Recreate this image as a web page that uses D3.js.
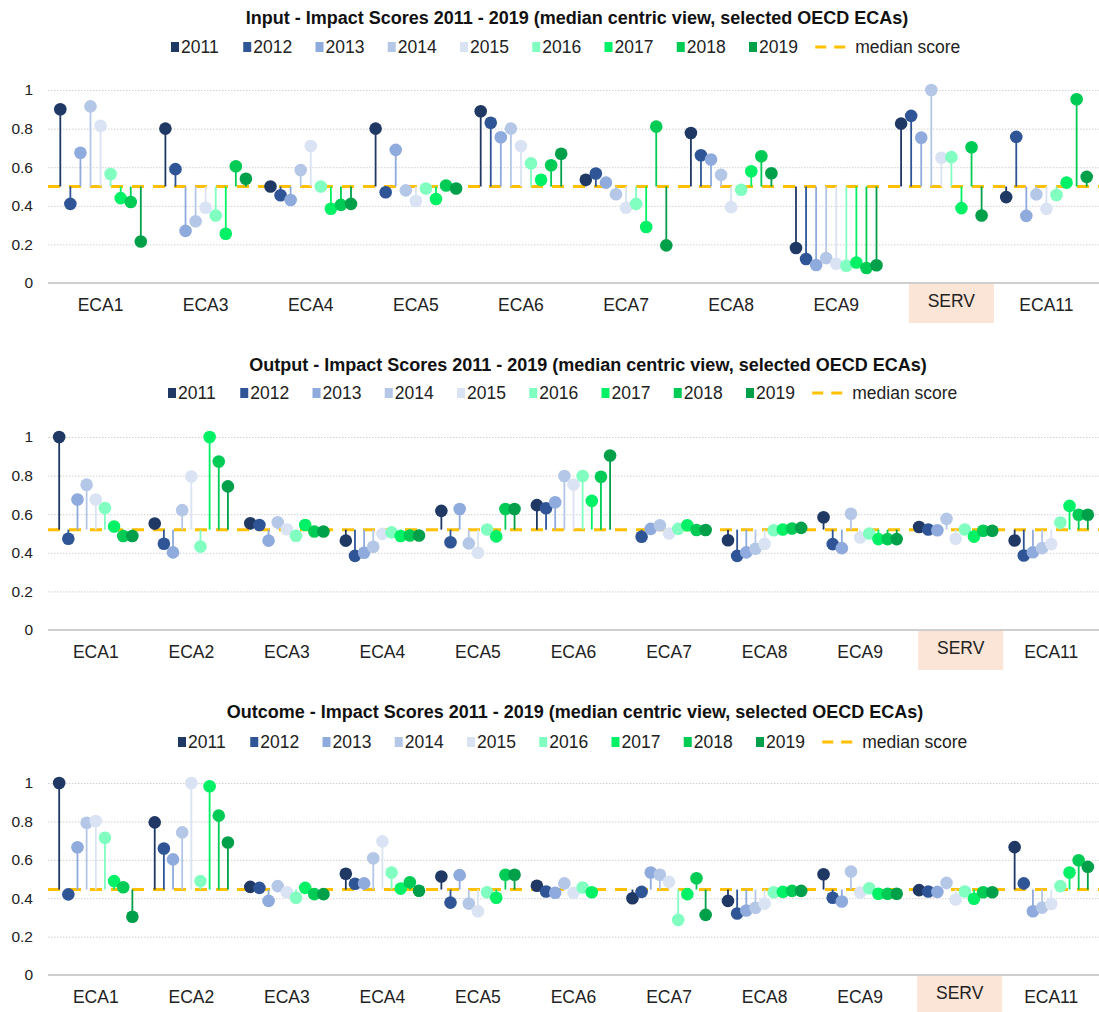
<!DOCTYPE html>
<html>
<head>
<meta charset="utf-8">
<script src="https://cdn.jsdelivr.net/npm/d3@7"></script>
<style>
  body { margin: 0; background: #fff; }
  svg { font-family: "Liberation Sans", Arial, sans-serif; }
</style>
</head>
<body>
<div id="chart"></div>
<script>
// series
const years = [2011, 2012, 2013, 2014, 2015, 2016, 2017, 2018, 2019];
const yearColors = ["#1f3864", "#2f5597", "#8faadc", "#b4c7e7", "#dae3f3",
                    "#80ffc0", "#00f066", "#00cc55", "#00a04a"];
const medianColor = "#ffc000";
const yTicks = [0, 0.2, 0.4, 0.6, 0.8, 1];

// Input panel: one row per ECA, one value per year
const inputCats = ["ECA1", "ECA3", "ECA4", "ECA5", "ECA6", "ECA7", "ECA8", "ECA9", "SERV", "ECA11"];
const inputMedian = 0.5;
const inputScores = [
    [0.90, 0.41, 0.675, 0.915, 0.815, 0.565, 0.44, 0.42, 0.215],
    [0.80, 0.59, 0.27, 0.32, 0.39, 0.35, 0.255, 0.605, 0.54],
    [0.50, 0.455, 0.43, 0.585, 0.71, 0.50, 0.385, 0.405, 0.41],
    [0.80, 0.47, 0.69, 0.48, 0.425, 0.49, 0.435, 0.505, 0.49],
    [0.89, 0.83, 0.755, 0.80, 0.71, 0.62, 0.535, 0.61, 0.67],
    [0.535, 0.567, 0.52, 0.46, 0.39, 0.41, 0.29, 0.81, 0.195],
    [0.777, 0.662, 0.64, 0.56, 0.393, 0.483, 0.579, 0.657, 0.569],
    [0.181, 0.124, 0.093, 0.129, 0.10, 0.089, 0.106, 0.078, 0.092],
    [0.826, 0.866, 0.753, 1.0, 0.649, 0.652, 0.388, 0.703, 0.35],
    [0.445, 0.757, 0.348, 0.459, 0.384, 0.456, 0.52, 0.952, 0.55]
];

// Output panel
const outputCats = ["ECA1", "ECA2", "ECA3", "ECA4", "ECA5", "ECA6", "ECA7", "ECA8", "ECA9", "SERV", "ECA11"];
const outputMedian = 0.52;
const outputScores = [
    [1.0, 0.473, 0.676, 0.753, 0.676, 0.632, 0.536, 0.487, 0.487],
    [0.552, 0.447, 0.402, 0.621, 0.795, 0.432, 1.0, 0.873, 0.744],
    [0.553, 0.544, 0.463, 0.558, 0.522, 0.488, 0.544, 0.51, 0.51],
    [0.463, 0.384, 0.40, 0.431, 0.498, 0.506, 0.487, 0.49, 0.49],
    [0.617, 0.455, 0.627, 0.449, 0.40, 0.521, 0.485, 0.627, 0.627],
    [0.647, 0.631, 0.662, 0.798, 0.754, 0.798, 0.669, 0.794, 0.904],
    [null, 0.483, 0.524, 0.543, 0.50, 0.524, 0.543, 0.518, 0.518],
    [0.465, 0.384, 0.402, 0.421, 0.446, 0.517, 0.521, 0.526, 0.529],
    [0.584, 0.445, 0.424, 0.602, 0.479, 0.50, 0.471, 0.471, 0.471],
    [0.534, 0.521, 0.517, 0.576, 0.473, 0.521, 0.484, 0.514, 0.514],
    [0.464, 0.386, 0.403, 0.424, 0.445, 0.557, 0.643, 0.597, 0.597]
];

// Outcome panel
const outcomeCats = ["ECA1", "ECA2", "ECA3", "ECA4", "ECA5", "ECA6", "ECA7", "ECA8", "ECA9", "SERV", "ECA11"];
const outcomeMedian = 0.445;
const outcomeScores = [
    [1.0, 0.42, 0.665, 0.793, 0.802, 0.715, 0.489, 0.457, 0.303],
    [0.795, 0.659, 0.602, 0.743, 1.0, 0.489, 0.983, 0.83, 0.69],
    [0.459, 0.454, 0.386, 0.463, 0.431, 0.402, 0.454, 0.421, 0.421],
    [0.527, 0.475, 0.477, 0.608, 0.696, 0.533, 0.45, 0.483, 0.439],
    [0.513, 0.377, 0.52, 0.372, 0.332, 0.431, 0.402, 0.522, 0.522],
    [0.465, 0.435, 0.428, 0.477, 0.428, 0.456, 0.431, null, null],
    [0.40, 0.433, 0.534, 0.522, 0.485, 0.287, 0.421, 0.504, 0.313],
    [0.386, 0.32, 0.336, 0.35, 0.372, 0.431, 0.433, 0.438, 0.438],
    [0.525, 0.402, 0.383, 0.539, 0.43, 0.452, 0.423, 0.423, 0.423],
    [0.442, 0.435, 0.433, 0.48, 0.393, 0.435, 0.397, 0.431, 0.431],
    [0.666, 0.477, 0.332, 0.351, 0.37, 0.463, 0.534, 0.598, 0.563]
];

const panels = [
    { title: "Input - Impact Scores 2011 - 2019 (median centric view, selected OECD ECAs)",
      cats: inputCats, scores: inputScores, median: inputMedian,
      titleX: 577, titleY: 18, legendX: 171, legendY: 47, yTop: 90, yBottom: 283, servShift: 10 },
    { title: "Output - Impact Scores 2011 - 2019 (median centric view, selected OECD ECAs)",
      cats: outputCats, scores: outputScores, median: outputMedian,
      titleX: 588, titleY: 365, legendX: 168, legendY: 393, yTop: 437, yBottom: 630, servShift: 5 },
    { title: "Outcome - Impact Scores 2011 - 2019 (median centric view, selected OECD ECAs)",
      cats: outcomeCats, scores: outcomeScores, median: outcomeMedian,
      titleX: 575, titleY: 712, legendX: 178, legendY: 742, yTop: 783, yBottom: 975, servShift: 4 }
];

const plotLeft = 48, plotRight = 1099;

const svg = d3.select("#chart").append("svg")
    .attr("width", 1099)
    .attr("height", 1012);

panels.forEach(function(p) {
    let g = svg.append("g");

    let x = d3.scaleBand().domain(p.cats).range([plotLeft, plotRight]);
    let bw = x.bandwidth();
    // years spread inside each category band
    let xi = d3.scalePoint().domain(years).range([bw * 0.117, bw * 0.883]);
    let y = d3.scaleLinear().domain([0, 1]).range([p.yBottom, p.yTop]);

    // title
    g.append("text")
        .attr("x", p.titleX)
        .attr("y", p.titleY)
        .attr("text-anchor", "middle")
        .attr("dominant-baseline", "central")
        .style("font-size", "18px")
        .style("font-weight", "bold")
        .attr("fill", "#111")
        .text(p.title);

    // legend
    let step = 72.25;
    let leg = g.append("g");
    years.forEach(function(yr, j) {
        let lx = p.legendX + j * step;
        leg.append("rect")
            .attr("x", lx)
            .attr("y", p.legendY - 5)
            .attr("width", 8)
            .attr("height", 10)
            .attr("fill", yearColors[j]);
        leg.append("text")
            .attr("x", lx + 10)
            .attr("y", p.legendY)
            .attr("dominant-baseline", "central")
            .style("font-size", "17.5px")
            .attr("fill", "#222")
            .text(yr);
    });
    let mx = p.legendX + 9 * step;
    leg.append("line")
        .attr("x1", mx - 6).attr("x2", mx + 24)
        .attr("y1", p.legendY).attr("y2", p.legendY)
        .attr("stroke", medianColor)
        .attr("stroke-width", 3)
        .attr("stroke-dasharray", "11,8");
    leg.append("text")
        .attr("x", mx + 34)
        .attr("y", p.legendY)
        .attr("dominant-baseline", "central")
        .style("font-size", "17.5px")
        .attr("fill", "#222")
        .text("median score");

    // gridlines
    let grid = g.append("g")
        .attr("transform", `translate(${plotLeft},0)`)
        .call(d3.axisLeft(y).tickValues(yTicks.slice(1)).tickSize(-(plotRight - plotLeft)).tickFormat(""));
    grid.select(".domain").remove();
    grid.selectAll("line")
        .attr("stroke", "#d0d0d0")
        .attr("stroke-dasharray", "1.5,1.5");

    // y labels
    let yAxis = g.append("g")
        .attr("transform", `translate(${plotLeft},0)`)
        .call(d3.axisLeft(y).tickValues(yTicks).tickSize(0).tickPadding(15).tickFormat(d3.format("")));
    yAxis.select(".domain").remove();
    yAxis.selectAll("text")
        .style("font-size", "15.5px")
        .style("font-family", "Liberation Sans, Arial, sans-serif")
        .attr("fill", "#222");

    // zero axis line
    g.append("line")
        .attr("x1", plotLeft).attr("x2", plotRight)
        .attr("y1", y(0)).attr("y2", y(0))
        .attr("stroke", "#bfbfbf")
        .attr("stroke-width", 1.5);

    // SERV highlight box
    let sx = x("SERV") + bw / 2 + p.servShift;
    g.append("rect")
        .attr("x", sx - 42.5)
        .attr("y", y(0) + 1)
        .attr("width", 85)
        .attr("height", 39)
        .attr("fill", "#fbe5d6");

    // category labels
    g.selectAll(".cat")
        .data(p.cats)
        .enter().append("text")
        .attr("class", "cat")
        .attr("x", d => x(d) + bw / 2 + (d === "SERV" ? p.servShift : 0))
        .attr("y", d => y(0) + (d === "SERV" ? 18 : 22))
        .attr("text-anchor", "middle")
        .attr("dominant-baseline", "central")
        .style("font-size", "17.5px")
        .attr("fill", "#222")
        .text(d => d);

    // median line
    g.append("line")
        .attr("x1", plotLeft).attr("x2", plotRight)
        .attr("y1", y(p.median)).attr("y2", y(p.median))
        .attr("stroke", medianColor)
        .attr("stroke-width", 3)
        .attr("stroke-dasharray", "12,9");

    // stems and dots, one series per year
    years.forEach(function(yr, j) {
        let pts = p.cats.map((c, i) => ({ cat: c, v: p.scores[i][j] })).filter(d => d.v !== null);
        let s = g.append("g");
        s.selectAll("line")
            .data(pts)
            .enter().append("line")
            .attr("x1", d => x(d.cat) + xi(yr))
            .attr("x2", d => x(d.cat) + xi(yr))
            .attr("y1", y(p.median))
            .attr("y2", d => y(d.v))
            .attr("stroke", yearColors[j])
            .attr("stroke-width", 1.8);
        s.selectAll("circle")
            .data(pts)
            .enter().append("circle")
            .attr("cx", d => x(d.cat) + xi(yr))
            .attr("cy", d => y(d.v))
            .attr("r", 6.3)
            .attr("fill", yearColors[j]);
    });
});
</script>
</body>
</html>
